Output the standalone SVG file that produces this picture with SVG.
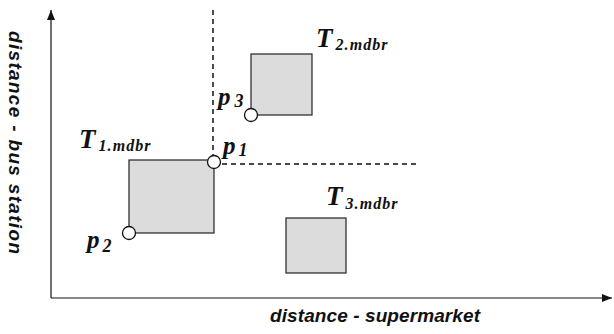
<svg xmlns="http://www.w3.org/2000/svg" width="614" height="334" viewBox="0 0 614 334">
<defs>
<marker id="arr" viewBox="0 0 10 10" refX="10" refY="5" markerWidth="10" markerHeight="10" markerUnits="userSpaceOnUse" orient="auto">
<path d="M0,1 L10,5 L0,9 Z" fill="#111"/>
</marker>
</defs>
<style>
.box{fill:#dcdcdc;stroke:#222;stroke-width:1.2}
.pt{fill:#fff;stroke:#111;stroke-width:1.3}
.dash{stroke:#111;stroke-width:1.5;stroke-dasharray:5 4;fill:none}
.axis{stroke:#111;stroke-width:1.2;fill:none}
.T{font-family:"Liberation Serif",serif;font-weight:bold;font-style:italic;font-size:27px;fill:#111}
.sub{font-size:16px}
.p{font-family:"Liberation Serif",serif;font-weight:bold;font-style:italic;font-size:25px;fill:#111}
.ps{font-size:18px}
.ax{font-family:"Liberation Sans",Arial,sans-serif;font-weight:bold;font-style:italic;font-size:19px;fill:#111}
</style>
<g id="connectors">
<line class="axis" x1="51" y1="298" x2="51" y2="10" marker-end="url(#arr)"/>
<line class="axis" x1="51" y1="298" x2="612" y2="298" marker-end="url(#arr)"/>
<line class="dash" x1="213" y1="10" x2="213" y2="158"/>
<line class="dash" x1="222" y1="164" x2="418" y2="164"/>
</g>
<g id="T1">
<rect class="box" x="129" y="160" width="85" height="73"/>
<text class="T" x="79" y="148">T<tspan class="sub" dx="3" dy="3" textLength="52">1.mdbr</tspan></text>
</g>
<g id="T2">
<rect class="box" x="251" y="54" width="61" height="61"/>
<text class="T" x="316" y="47">T<tspan class="sub" dx="3" dy="3" textLength="52">2.mdbr</tspan></text>
</g>
<g id="T3">
<rect class="box" x="286" y="218" width="60" height="55"/>
<text class="T" x="326" y="205">T<tspan class="sub" dx="3" dy="4" textLength="52">3.mdbr</tspan></text>
</g>
<g id="p1">
<circle class="pt" cx="214" cy="162" r="6.5"/>
<text class="p" x="223" y="154">p<tspan class="ps" dx="3" dy="2">1</tspan></text>
</g>
<g id="p2">
<circle class="pt" cx="129" cy="233" r="6.5"/>
<text class="p" x="87" y="248">p<tspan class="ps" dx="3" dy="4">2</tspan></text>
</g>
<g id="p3">
<circle class="pt" cx="251" cy="115" r="6.5"/>
<text class="p" x="218" y="105">p<tspan class="ps" dx="4" dy="2">3</tspan></text>
</g>
<g id="labels">
<text class="ax" x="270" y="322" textLength="210">distance - supermarket</text>
<text class="ax" transform="translate(9,31) rotate(90)" x="0" y="0" textLength="223">distance - bus station</text>
</g>
</svg>
